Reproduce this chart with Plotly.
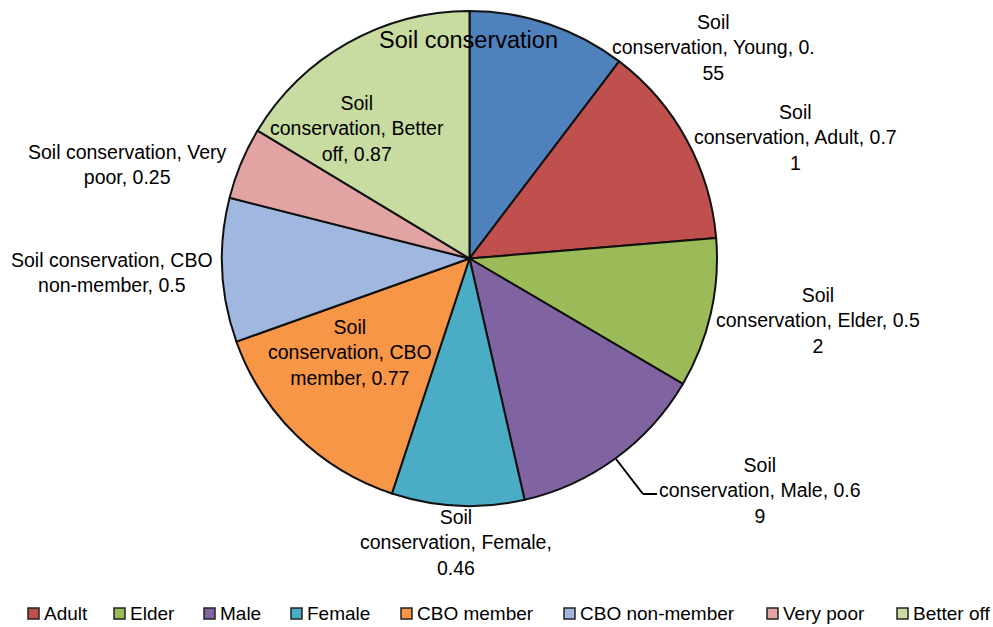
import plotly.graph_objects as go

title = "Soil conservation"
categories = ["Young", "Adult", "Elder", "Male", "Female", "CBO member",
              "CBO non-member", "Very poor", "Better off"]
values = [0.55, 0.71, 0.52, 0.69, 0.46, 0.77, 0.5, 0.25, 0.87]
colors = ["#4F81BD", "#C0504D", "#9BBB59", "#8064A2", "#4BACC6", "#F79646",
          "#A0B7DF", "#E2A3A3", "#C8DBA0"]

# Data label text as wrapped in the reference
label_texts = [
    "Soil<br>conservation, Young, 0.<br>55",
    "Soil<br>conservation, Adult, 0.7<br>1",
    "Soil<br>conservation, Elder, 0.5<br>2",
    "Soil<br>conservation, Male, 0.6<br>9",
    "Soil<br>conservation, Female,<br>0.46",
    "Soil<br>conservation, CBO<br>member, 0.77",
    "Soil conservation, CBO<br>non-member, 0.5",
    "Soil conservation, Very<br>poor, 0.25",
    "Soil<br>conservation, Better<br>off, 0.87",
]
# label centre positions (pixels)
label_pos = [(713, 48), (795, 137), (818, 320), (760, 490), (456, 542),
             (350, 352), (112, 272), (127, 164), (357, 128)]

W, H = 993, 627
FONT = "Liberation Sans, Arial, sans-serif"

fig = go.Figure()
fig.add_trace(go.Pie(
    labels=categories, values=values, sort=False, direction="clockwise",
    rotation=0,
    marker=dict(colors=colors, line=dict(color="#111111", width=2)),
    textinfo="none", hoverinfo="label+value", showlegend=False,
    domain=dict(x=[222 / W, 717 / W], y=[1 - 506 / H, 1 - 11 / H]),
))

anns = []
for t, (x, y) in zip(label_texts, label_pos):
    anns.append(dict(x=x / W, y=1 - y / H, xref="paper", yref="paper",
                     text=t, showarrow=False, xanchor="center", yanchor="middle",
                     font=dict(family=FONT, size=19.5, color="#000000")))

anns.append(dict(x=468 / W, y=1 - 40 / H, xref="paper", yref="paper",
                 text=title, showarrow=False, xanchor="center", yanchor="middle",
                 font=dict(family=FONT, size=23.5, color="#000000")))

shapes = []
# leader line for Male label
for (x0, y0, x1, y1) in [(616, 459, 643, 494), (643, 494, 657, 494)]:
    shapes.append(dict(type="line", xref="paper", yref="paper",
                       x0=x0 / W, y0=1 - y0 / H, x1=x1 / W, y1=1 - y1 / H,
                       line=dict(color="#000000", width=2)))

# legend (Young entry is clipped off in the reference)
legend_x = [28, 114, 204, 291, 401, 564, 767, 897]
ly = 613.5
for cat, col, lx in zip(categories[1:], colors[1:], legend_x):
    shapes.append(dict(type="rect", xref="paper", yref="paper",
                       x0=lx / W, x1=(lx + 11) / W,
                       y0=1 - (ly - 5.5) / H, y1=1 - (ly + 5.5) / H,
                       fillcolor=col, line=dict(color="#222222", width=1.5)))
    anns.append(dict(x=(lx + 14) / W, y=1 - ly / H, xref="paper", yref="paper",
                     text=cat, showarrow=False, xanchor="left", yanchor="middle",
                     font=dict(family=FONT, size=19, color="#000000")))

fig.update_layout(
    width=W, height=H, margin=dict(l=0, r=0, t=0, b=0),
    paper_bgcolor="white", plot_bgcolor="white",
    annotations=anns, shapes=shapes, showlegend=False,
)

fig.write_html("out.html")
